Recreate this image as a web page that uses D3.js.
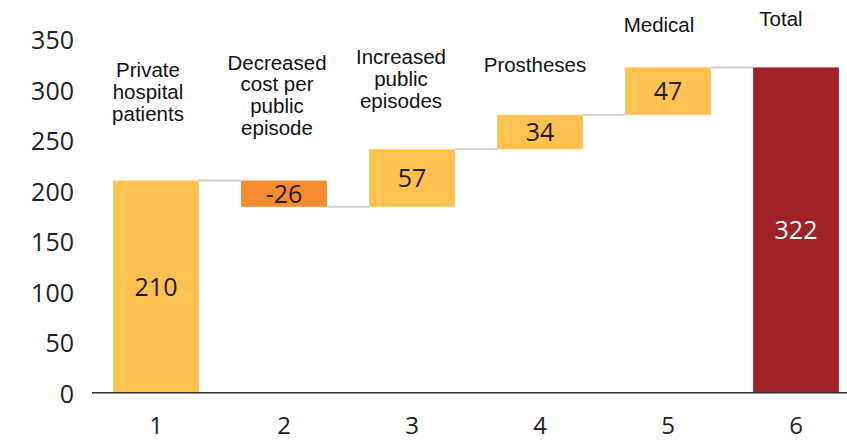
<!DOCTYPE html>
<html>
<head>
<meta charset="utf-8">
<script src="https://cdn.jsdelivr.net/npm/d3@7"></script>
<style>
  html, body { margin: 0; padding: 0; background: #fff; }
  svg { display: block; }
  .num { font-family: "Open Sans", "Noto Sans", sans-serif; font-stretch: 92%; }
  .cat { font-family: "Liberation Sans", Arial, sans-serif; }
</style>
</head>
<body>
<svg id="chart" width="847" height="441"></svg>
<script>
// ---- data ----
const categories = ["1", "2", "3", "4", "5", "6"];
const values = [210, -26, 57, 34, 47, 322];
const kinds = ["base", "delta", "delta", "delta", "delta", "total"];
const stepLabels = [
  ["Private", "hospital", "patients"],
  ["Decreased", "cost per", "public", "episode"],
  ["Increased", "public", "episodes"],
  ["Prostheses"],
  ["Medical"],
  ["Total"]
];
const yTicks = [0, 50, 100, 150, 200, 250, 300, 350];

// ---- layout (not data) ----
const labelLayout = [
  { dx: -8, y: 77 },
  { dx: -7, y: 69.5 },
  { dx: -11, y: 64 },
  { dx: -5, y: 72 },
  { dx: -9, y: 32 },
  { dx: -15, y: 25.5 }
];
const lineH = 21.8;

const svg = d3.select("#chart");

const x = d3.scaleBand().domain(categories).range([92, 860])
  .paddingInner(0.33).paddingOuter(0.165);
const y = d3.scaleLinear().domain([0, 350]).range([392.7, 39.1]);

// compute waterfall segments
let run = 0;
const segs = values.map((v, i) => {
  let lo, hi, end;
  if (kinds[i] === "base" || kinds[i] === "total") {
    lo = 0; hi = v; end = v;
  } else {
    const start = run; end = run + v;
    lo = Math.min(start, end); hi = Math.max(start, end);
  }
  run = end;
  return { cat: categories[i], v, lo, hi, end, kind: kinds[i] };
});

const color = d => d.kind === "total" ? "#9E2227" : (d.v < 0 ? "#F68B30" : "#FFC152");

// connectors
for (let i = 0; i < segs.length - 1; i++) {
  svg.append("line")
    .attr("x1", x(segs[i].cat) + x.bandwidth())
    .attr("x2", x(segs[i + 1].cat))
    .attr("y1", y(segs[i].end))
    .attr("y2", y(segs[i].end))
    .attr("stroke", "#cfcfcf")
    .attr("stroke-width", 2);
}

// bars
svg.selectAll("rect.bar").data(segs).join("rect")
  .attr("class", "bar")
  .attr("x", d => x(d.cat))
  .attr("width", x.bandwidth())
  .attr("y", d => y(d.hi))
  .attr("height", d => y(d.lo) - y(d.hi))
  .attr("fill", color);

// value labels
svg.selectAll("text.val").data(segs).join("text")
  .attr("class", "val num")
  .attr("x", d => x(d.cat) + x.bandwidth() / 2)
  .attr("y", d => (y(d.lo) + y(d.hi)) / 2)
  .attr("dy", "0.36em")
  .attr("text-anchor", "middle")
  .attr("font-size", 25)
  .attr("fill", d => d.kind === "total" ? "#ffffff" : "#231a12")
  .text(d => d.v);

// x axis
const xAxis = svg.append("g")
  .attr("transform", `translate(0,${y(0)})`)
  .call(d3.axisBottom(x).tickSize(0).tickPadding(0));
xAxis.select(".domain").remove();
svg.append("line")
  .attr("x1", 92).attr("x2", 847)
  .attr("y1", y(0)).attr("y2", y(0))
  .attr("stroke", "#333").attr("stroke-width", 1.5);
xAxis.selectAll("text")
  .attr("class", "num")
  .attr("font-size", 24)
  .attr("fill", "#222")
  .attr("dy", "0")
  .attr("y", 41);

// y axis
const yAxis = svg.append("g")
  .attr("transform", "translate(74,0)")
  .call(d3.axisLeft(y).tickValues(yTicks).tickSize(0).tickPadding(0));
yAxis.select(".domain").remove();
yAxis.selectAll("text")
  .attr("class", "num")
  .attr("font-size", 25)
  .attr("fill", "#222")
  .attr("dy", "0.38em");

// step labels
segs.forEach((d, i) => {
  const t = svg.append("text")
    .attr("class", "cat")
    .attr("text-anchor", "middle")
    .attr("font-size", 20.5)
    .attr("fill", "#111");
  const cx = x(d.cat) + x.bandwidth() / 2 + labelLayout[i].dx;
  stepLabels[i].forEach((ln, j) => {
    t.append("tspan")
      .attr("x", cx)
      .attr("y", labelLayout[i].y + j * lineH)
      .text(ln);
  });
});
</script>
</body>
</html>
